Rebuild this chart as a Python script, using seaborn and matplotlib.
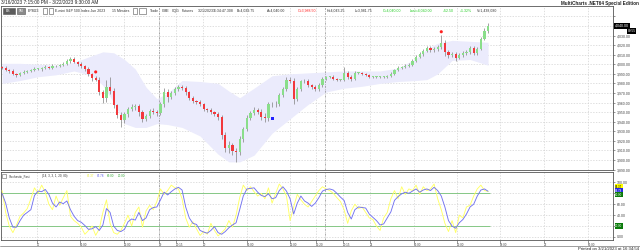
import matplotlib
matplotlib.use("Agg")
import matplotlib.pyplot as plt
import seaborn as sns
import numpy as np
import pandas as pd
from matplotlib.patches import Rectangle

# ---------------- data ----------------
closes = [3996, 3994, 3993, 3990, 3989, 3991, 3992, 3993, 3994, 3995,
          3995, 3996, 3997, 3996, 3998, 3998, 3999, 4000, 4003, 4006,
          4002, 4000, 3998, 3995, 3990, 3986, 3984, 3971, 3965, 3976,
          3972, 3957, 3947, 3942, 3948, 3953, 3955, 3956, 3950, 3943,
          3946, 3951, 3950, 3949, 3958, 3971, 3966, 3970, 3974, 3976,
          3975, 3971, 3965, 3962, 3961, 3958, 3953, 3952, 3950, 3948,
          3945, 3926, 3912, 3916, 3909, 3908, 3922, 3932, 3944, 3949,
          3952, 3950, 3945, 3944, 3958, 3959, 3958, 3968, 3974, 3984,
          3982, 3964, 3974, 3982, 3983, 3978, 3976, 3974, 3978, 3985,
          3987, 3987, 3985, 3984, 3984, 3991, 3987, 3985, 3991, 3991,
          3990, 3989, 3987, 3987, 3987, 3987, 3987, 3988, 3990, 3994,
          3996, 3997, 3998, 3999, 4003, 4008, 4011, 4014, 4017, 4015,
          4016, 4018, 4022, 4013, 4010, 4011, 4007, 4010, 4012, 4013,
          4017, 4012, 4016, 4026, 4035, 4040]
first_open = 3997
hi_ext = [1, 2, 1, 2, 1, 1, 2, 1, 1, 2, 1, 1, 2, 1, 2, 1, 1, 2, 2, 2,
          2, 1, 2, 1, 2, 1, 2, 3, 2, 8, 11, 3, 2, 3, 2, 2, 3, 2, 3, 2,
          2, 2, 3, 2, 3, 4, 3, 2, 2, 2, 2, 2, 1, 2, 1, 2, 2, 1, 2, 1,
          2, 2, 3, 4, 2, 3, 3, 2, 3, 2, 3, 2, 3, 4, 3, 2, 3, 2, 2, 3,
          3, 4, 2, 2, 2, 2, 1, 2, 2, 2, 1, 1, 2, 1, 1, 6, 2, 2, 2, 1,
          1, 1, 1, 1, 1, 1, 1, 1, 2, 1, 2, 1, 2, 2, 2, 2, 2, 2, 2, 2,
          2, 2, 9, 3, 2, 2, 2, 2, 2, 2, 2, 2, 2, 2, 3, 3]
lo_ext = [1, 1, 2, 1, 2, 1, 1, 1, 1, 1, 1, 2, 1, 1, 1, 1, 1, 1, 1, 2,
          1, 2, 2, 2, 2, 3, 2, 3, 5, 4, 3, 3, 3, 8, 3, 3, 2, 3, 4, 3,
          2, 2, 2, 3, 2, 3, 5, 2, 2, 2, 2, 3, 2, 2, 2, 2, 2, 2, 2, 2,
          3, 4, 4, 5, 4, 10, 3, 3, 2, 2, 2, 2, 3, 4, 3, 3, 3, 2, 2, 2,
          2, 6, 2, 2, 2, 2, 2, 2, 2, 2, 1, 1, 1, 2, 1, 2, 2, 2, 1, 1,
          1, 1, 1, 1, 1, 1, 1, 1, 1, 1, 1, 1, 1, 1, 1, 1, 1, 2, 1, 2,
          2, 2, 2, 4, 3, 2, 4, 2, 2, 2, 2, 2, 2, 1, 1, 2]

band_idx = [0, 5, 10, 15, 20, 25, 28, 31, 34, 37, 40, 43, 46, 50, 55, 60, 63,
            66, 70, 75, 80, 85, 90, 95, 100, 105, 110, 115, 118, 121, 125, 130, 135]
band_upper = [4001, 4001, 4000, 3999, 4002, 4009, 4013, 4012, 4005, 3995, 3976,
              3964, 3970, 3983, 3982, 3980, 3972, 3965, 3975, 3988, 3990, 3991,
              3992, 3993, 3993, 3993, 3996, 4006, 4016, 4022, 4025, 4024, 4023]
band_lower = [3980, 3983, 3987, 3989, 3993, 3988, 3978, 3960, 3938, 3934, 3934,
              3938, 3937, 3934, 3925, 3906, 3898, 3898, 3905, 3928, 3943, 3958,
              3971, 3975, 3977, 3980, 3982, 3983, 3984, 3990, 4004, 4005, 3999]

stoch_k = [85, 45, 20, 8, 22, 38, 44, 52, 70, 90, 80, 95, 82, 60, 50, 75, 58, 72, 85, 38,
           30, 25, 18, 5, 12, 20, 3, 15, 45, 68, 25, 8, 5, 12, 25, 40, 20, 45, 55, 18,
           48, 58, 50, 65, 88, 78, 85, 95, 90, 88, 70, 35, 18, 28, 15, 3, 10, 5, 25, 12,
           2, 8, 15, 30, 18, 40, 72, 95, 85, 92, 83, 75, 80, 70, 90, 62, 80, 97, 88, 75,
           30, 55, 78, 68, 60, 55, 65, 75, 85, 92, 88, 85, 80, 72, 65, 50, 25, 48, 60, 52,
           55, 45, 35, 32, 20, 12, 35, 45, 70, 85, 70, 92, 78, 88, 85, 95, 78, 92, 85, 88,
           97, 70, 50, 25, 10, 30, 8, 40, 35, 55, 58, 75, 88, 95, 85, 83.37]
stoch_d = [80, 62, 35, 18, 18, 30, 40, 45, 50, 76, 84, 83, 87, 78, 62, 55, 64, 61, 66, 50,
           38, 30, 27, 21, 14, 15, 19, 12, 22, 52, 45, 20, 12, 10, 14, 28, 33, 31, 45, 30,
           35, 50, 54, 55, 68, 82, 77, 83, 88, 91, 86, 55, 35, 25, 23, 12, 9, 7, 12, 19,
           8, 5, 10, 17, 22, 26, 50, 75, 88, 89, 90, 82, 76, 74, 79, 70, 72, 85, 92, 84,
           70, 42, 62, 75, 66, 62, 56, 62, 72, 84, 87, 88, 86, 80, 73, 67, 45, 33, 50, 55,
           54, 53, 42, 36, 30, 22, 24, 35, 46, 67, 74, 79, 82, 80, 84, 88, 82, 86, 88, 85,
           91, 85, 75, 55, 30, 20, 16, 26, 32, 42, 55, 60, 75, 86, 88, 83.78]

sell_idx = [26, 122]
sell_px = [3992, 4034]
buy_idx = [75]
buy_px = [3943]

tick_idx = [9.7, 21.7, 33.9, 43.6, 48.3, 55.8, 68.1, 80.0, 87.2, 94.7,
            102.2, 114.4, 126.4, 138.3, 150.6, 162.8]
tick_labels = ["17", "06:00", "12:00", "19", "20:15", "20", "06:00", "12:00",
               "15:20", "20:15", "21", "06:00", "12:00", "18:00", "22", "06:00"]
session_breaks = [43.6, 89.7]
price_levels = [3890, 3900, 3910, 3920, 3930, 3940, 3950, 3960, 3970, 3980,
                3990, 4000, 4010, 4020, 4030, 4040, 4050]
stoch_levels = [0, 20, 40, 60, 80, 100]

# ---------------- styling ----------------
sns.set_theme(style="white")
plt.rcParams['font.family'] = ['Liberation Sans', 'DejaVu Sans']

W, H = 640, 252
fig = plt.figure(figsize=(W / 100, H / 100), dpi=100)
fig.patch.set_facecolor("white")


def fx(px):
    return px / W


def fy(py):
    return 1 - py / H


GRID = dict(color="#d2d2d2", lw=0.5, ls=(0, (2, 2)))
XLIM = (-0.3, 169.7)

# ---------------- price panel ----------------
axp = fig.add_axes([fx(1), fy(170), fx(612), (170 - 6) / H])
n = len(closes)
opens = [first_open] + closes[:-1]
df = pd.DataFrame({"idx": np.arange(n), "open": opens, "close": closes})
df["high"] = df[["open", "close"]].max(axis=1) + np.array(hi_ext)
df["low"] = df[["open", "close"]].min(axis=1) - np.array(lo_ext)
df["up"] = df["close"] >= df["open"]

axp.fill_between(band_idx, band_lower, band_upper, color="#ebebfc", lw=0, zorder=1)
axp.vlines(df["idx"], df["low"], df["high"], color="#8a8a8a", lw=0.55, zorder=3)
body = np.maximum((df["close"] - df["open"]).abs(), 0.6)
axp.bar(df["idx"], body, bottom=df[["open", "close"]].min(axis=1), width=0.6,
        color=np.where(df["up"], "#8ade8a", "#f2383c"), lw=0, zorder=4)

sns.scatterplot(x=sell_idx, y=sell_px, ax=axp, color="#ff2020", s=5, marker="o",
                edgecolor="none", zorder=5)
sns.scatterplot(x=buy_idx, y=buy_px, ax=axp, color="#2020ff", s=5, marker="s",
                edgecolor="none", zorder=5)

axp.set_xlim(*XLIM)
axp.set_ylim(3889.5, 4060.9)
axp.set_xticks(tick_idx)
axp.set_yticks(price_levels)
axp.yaxis.tick_right()
axp.set_yticklabels(["" if v in (4040, 4050) else f"{v:,.2f}" for v in price_levels])
axp.tick_params(axis="y", labelsize=2.5, length=1.5, width=0.4, pad=1.2,
                colors="#444444", right=True)
axp.tick_params(axis="x", length=0, labelbottom=False)
axp.grid(True, **GRID)
for b in session_breaks:
    axp.axvline(b, color="#8c8c8c", lw=0.5, ls=(0, (3, 1.5, 1, 1.5)), zorder=2)
for s in axp.spines.values():
    s.set_color("#555555")
    s.set_linewidth(0.6)
axp.annotate("4,040.00", xy=(1, 4040), xycoords=("axes fraction", "data"),
             xytext=(1.5, 0), textcoords="offset points", va="center", ha="left",
             fontsize=2.6, color="white",
             bbox=dict(boxstyle="square,pad=0.25", fc="black", ec="black", lw=0))
axp.annotate("00:55", xy=(1, 4034.8), xycoords=("axes fraction", "data"),
             xytext=(10.5, 0), textcoords="offset points", va="center", ha="left",
             fontsize=2.3, color="white",
             bbox=dict(boxstyle="square,pad=0.2", fc="black", ec="black", lw=0))

# ---------------- stochastic panel ----------------
axs = fig.add_axes([fx(1), fy(240), fx(612), (240 - 172) / H])
dfs = pd.DataFrame({"idx": np.arange(n), "k": stoch_k, "d": stoch_d})
axs.hlines([20, 80], XLIM[0], n - 0.5, color="#86c886", lw=0.7, zorder=2)
sns.lineplot(data=dfs, x="idx", y="k", ax=axs, color="#ffff66", lw=0.65, zorder=3)
sns.lineplot(data=dfs, x="idx", y="d", ax=axs, color="#7272f0", lw=0.65, zorder=4)
axs.set_xlim(*XLIM)
axs.set_ylim(-5.5, 119)
axs.set_xlabel("")
axs.set_ylabel("")
axs.set_yticks(stoch_levels)
axs.yaxis.tick_right()
axs.set_yticklabels(["" if v in (20, 80) else f"{v:.2f}" for v in stoch_levels])
axs.tick_params(axis="y", labelsize=2.5, length=1.5, width=0.4, pad=1.2,
                colors="#444444", right=True)
axs.set_xticks(tick_idx)
axs.set_xticklabels(tick_labels, ha="left")
axs.tick_params(axis="x", labelsize=2.2, length=2, width=0.4, pad=0.3,
                colors="#444444", bottom=True)
axs.grid(True, **GRID)
for b in session_breaks:
    axs.axvline(b, color="#8c8c8c", lw=0.5, ls=(0, (3, 1.5, 1, 1.5)), zorder=1)
for s in axs.spines.values():
    s.set_color("#555555")
    s.set_linewidth(0.6)
marker_boxes = [("83.37", 92.0, "#ffff00", "black"),
                ("83.78", 84.8, "#2828e0", "white"),
                ("80.00", 77.6, "#0a7a0a", "white"),
                ("20.00", 20.0, "#0a7a0a", "white")]
for txt, y, fc, tc in marker_boxes:
    axs.annotate(txt, xy=(1, y), xycoords=("axes fraction", "data"),
                 xytext=(1.5, 0), textcoords="offset points", va="center", ha="left",
                 fontsize=2.1, color=tc,
                 bbox=dict(boxstyle="square,pad=0.2", fc=fc, ec=fc, lw=0))

# stochastic header
fig.patches.append(Rectangle((fx(2), fy(178)), fx(4), 4 / H, transform=fig.transFigure,
                             fc="white", ec="#666666", lw=0.4))
hy = fy(176)
fig.text(fx(9), hy, "Stochastic_Fast", fontsize=2.2, color="#333333", va="center")
fig.text(fx(42), hy, "(14, 3, 3, 1, 20, 80)", fontsize=2.2, color="#333333", va="center")
fig.text(fx(87), hy, "83.37", fontsize=2.2, color="#e8e830", va="center")
fig.text(fx(97), hy, "83.78", fontsize=2.2, color="#5a5ae8", va="center")
fig.text(fx(107), hy, "80.00", fontsize=2.2, color="#3caa3c", va="center")
fig.text(fx(118), hy, "20.00", fontsize=2.2, color="#3caa3c", va="center")

# ---------------- figure texts ----------------
fig.text(fx(1), fy(3), "3/16/2023 7:15:00 PM - 3/22/2023 9:30:00 AM", fontsize=3.4,
         color="#222222", va="center")
fig.text(fx(639), fy(3), "MultiCharts .NET64 Special Edition", fontsize=3.3,
         weight="bold", color="#222222", va="center", ha="right")
fig.text(fx(639), fy(249.3), "Printed on 3/21/2023 at 16:34:54", fontsize=3.1,
         color="#222222", va="center", ha="right")
fig.add_artist(plt.Line2D([0, fx(640)], [fy(246), fy(246)], transform=fig.transFigure,
                          color="#777777", lw=0.5))

# toolbar / status line
for (x0, x1, fc) in [(3, 15, "#5c5c5c"), (17, 25, "#8a8a8a"), (43, 47, "white"),
                     (49, 53, "white"), (133, 137, "white"), (139, 146, "white")]:
    fig.patches.append(Rectangle((fx(x0), fy(13.5)), fx(x1 - x0), 5 / H,
                                 transform=fig.transFigure, fc=fc, ec="#555555", lw=0.4))
ty = fy(11)
fig.text(fx(6), ty, "ES", fontsize=2.4, color="white", va="center")
fig.text(fx(18.5), ty, "5M", fontsize=2.4, color="white", va="center")
status = [(28, "EPM23", "#333333"), (55, "E-mini S&P 500 Index Jun 2023", "#333333"),
          (112, "15 Minutes", "#333333"), (150, "Trade", "#333333"),
          (162, "CME", "#333333"), (172, "CQG", "#333333"), (182, "Futures", "#333333"),
          (198, "3/21/2023", "#333333"), (213, "16:34:47.308", "#333333"),
          (237, "B=4,039.75", "#333333"), (267, "A=4,040.00", "#333333"),
          (298, "O=3,988.50", "#ff2020"), (327, "H=4,043.25", "#333333"),
          (355, "L=3,981.75", "#333333"), (383, "C=4,040.00", "#22cc22"),
          (410, "Last=4,040.00", "#22cc22"), (443, "+52.50", "#22cc22"),
          (460, "+1.32%", "#22cc22"), (477, "V=1,438,080", "#333333")]
for x, t, c in status:
    fig.text(fx(x), ty, t, fontsize=2.5, color=c, va="center")

fig.savefig("out.png", dpi=100, facecolor="white")
